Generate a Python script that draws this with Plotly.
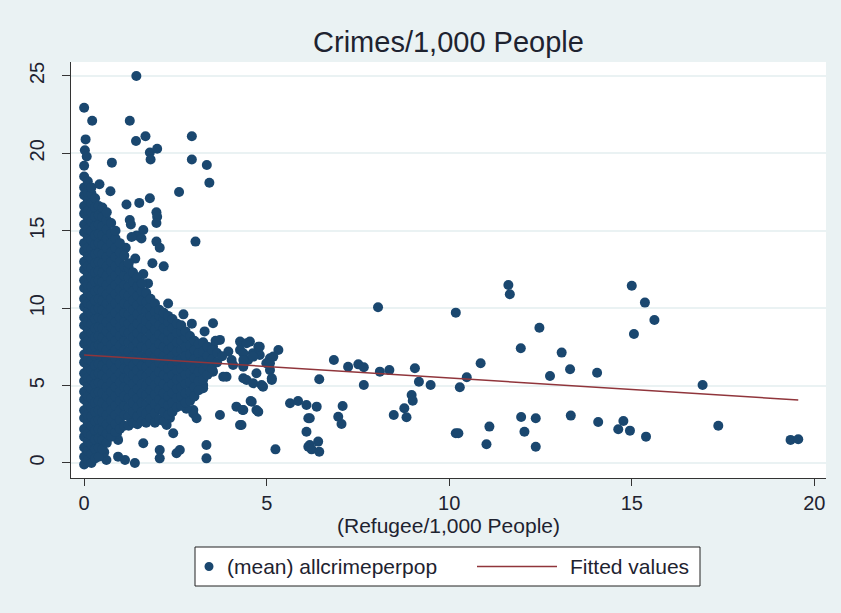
import plotly.graph_objects as go

# Municipalities away from the dense core (refugees per 1,000, crimes per 1,000)
refugee_sparse = [
    1.43, 0.00, 0.22, 1.25, 0.04, 1.42, 1.68, 2.95, 0.02, 0.07, 1.80, 2.00, 1.82, 0.76,
    2.95, 3.36, 0.00, 3.43, 2.60, 0.42, 0.72, 1.80, 1.16, 1.51, 3.05, 1.98, 2.00, 1.98,
    1.25, 1.28, 1.44, 1.62, 1.57, 1.30, 1.98, 2.07, 1.05, 0.96, 1.87, 2.18,
    0.61, 0.93, 1.12, 1.39, 0.93, 1.62, 2.07, 2.07, 2.62, 2.53, 3.35, 3.35, 2.26, 2.44,
    3.53, 3.72, 4.27, 4.54, 4.27, 4.62, 3.53, 3.90, 3.26, 3.08, 2.99, 3.72, 4.17, 4.36,
    4.27, 4.59, 4.72, 3.44, 3.81, 4.36, 4.45, 4.72, 5.09, 5.14, 4.63, 4.90, 2.99, 2.99,
    3.08, 3.26, 4.77, 5.24, 5.64, 5.86, 6.09, 6.09, 6.14, 6.14, 4.77, 4.81, 5.32, 5.09,
    4.99, 4.36, 4.49, 4.36, 4.04, 4.08, 3.26, 3.08, 2.90, 3.44, 3.17, 3.53, 4.45, 4.81,
    4.63, 4.36, 5.18, 5.09, 5.14, 4.86, 4.36, 4.56, 4.34, 4.31, 6.37, 6.18, 6.18, 6.23,
    6.41, 6.44, 7.08, 6.96, 7.05, 6.44, 6.84, 7.23, 7.51, 7.66, 7.66,
    8.05, 10.18, 11.62, 11.66, 12.47, 11.96, 10.86, 10.48, 10.29, 9.06, 9.17, 9.49,
    8.10, 8.36, 8.48, 8.77, 8.83, 8.97, 9.00, 10.18, 10.25, 11.10, 11.02, 11.97, 12.06,
    12.37, 12.37, 13.08, 12.76, 13.31, 14.05, 15.00, 15.36, 15.62, 15.06, 16.94, 13.33,
    14.08, 14.63, 14.77, 14.95, 15.39, 17.37, 19.35, 19.56,
    # ragged edge of the core
    1.14, 1.40, 1.62, 1.75, 2.30, 2.72, 2.95, 3.30, 0.90, 0.55, 2.35, 2.80, 3.60, 3.95,
]
crime_sparse = [
    25.0, 22.95, 22.1, 22.1, 20.9, 20.8, 21.1, 21.1, 20.2, 19.8, 20.05, 20.3, 19.6, 19.4,
    19.6, 19.25, 19.2, 18.1, 17.5, 18.0, 17.55, 17.1, 16.7, 16.8, 14.3, 16.2, 15.9, 15.5,
    15.7, 15.4, 14.7, 15.05, 14.5, 14.6, 14.3, 13.9, 13.8, 13.3, 12.9, 12.7,
    0.19, 0.41, 0.19, 0.0, 1.49, 1.27, 0.84, 0.30, 0.84, 0.63, 1.16, 0.30, 2.45, 1.92,
    9.03, 7.95, 7.84, 7.84, 7.30, 7.09, 5.90, 5.57, 5.04, 4.93, 3.20, 3.10, 3.64, 3.42,
    2.45, 3.96, 3.42, 6.00, 5.57, 6.22, 5.36, 5.80, 6.00, 5.36, 5.15, 4.93, 4.28, 3.42,
    2.89, 4.83, 3.31, 0.88, 3.86, 4.00, 3.75, 2.02, 1.05, 2.89, 7.51, 6.98, 7.30, 6.76,
    6.44, 7.09, 6.65, 6.33, 6.65, 6.33, 7.30, 7.30, 7.30, 6.87, 6.65, 7.51, 7.73, 7.51,
    6.87, 6.65, 6.87, 6.44, 5.47, 5.04, 5.47, 4.00, 3.42, 2.45, 3.64, 2.89, 1.16, 0.88,
    1.38, 0.73, 3.68, 2.99, 2.52, 5.41, 6.65, 6.22, 6.37, 6.18, 5.04,
    10.06, 9.71, 11.5, 10.9, 8.74, 7.41, 6.44, 5.54, 4.89, 6.12, 5.25, 5.04,
    5.90, 6.00, 3.10, 3.53, 2.95, 4.39, 4.02, 1.92, 1.92, 2.35, 1.21, 2.97, 2.02,
    2.89, 1.05, 7.13, 5.62, 6.05, 5.83, 11.45, 10.36, 9.24, 8.33, 5.04, 3.06,
    2.65, 2.18, 2.71, 2.09, 1.70, 2.41, 1.49, 1.53,
    13.9, 13.2, 12.2, 11.6, 10.3, 9.6, 9.0, 8.5, 1.9, 0.7, 2.9, 3.5, 7.9, 7.2,
]

# Dense core: refugee rate of each column and the crime rates recorded in it
core_refugee = [
    0.00, 0.10, 0.20, 0.30, 0.40, 0.50, 0.62, 0.74, 0.86, 0.98, 1.10, 1.22, 1.34, 1.46,
    1.58, 1.70, 1.82, 1.94, 2.06, 2.18, 2.30, 2.42, 2.54, 2.66, 2.78, 2.90, 3.02, 3.14,
    3.26, 3.38, 3.50, 3.64, 3.78,
]
core_crime = [
    [-0.1, 0.4, 1.0, 1.7, 2.2, 2.9, 3.4, 4.1, 4.6, 5.3, 5.8, 6.5, 7.0, 7.7, 8.2, 8.9, 9.4,
     10.1, 10.6, 11.3, 11.8, 12.5, 13.0, 13.7, 14.2, 14.9, 15.4, 16.1, 16.6, 17.3, 17.8, 18.5],
    [0.2, 0.8, 1.4, 1.9, 2.6, 3.1, 3.8, 4.3, 5.0, 5.5, 6.2, 6.7, 7.4, 7.9, 8.6, 9.1, 9.8,
     10.3, 11.0, 11.5, 12.2, 12.7, 13.4, 13.9, 14.6, 15.1, 15.8, 16.3, 17.0, 17.5, 18.2],
    [0.0, 0.6, 1.2, 1.8, 2.4, 3.0, 3.6, 4.2, 4.8, 5.4, 6.0, 6.6, 7.2, 7.8, 8.4, 9.0, 9.6,
     10.2, 10.8, 11.4, 12.0, 12.6, 13.2, 13.8, 14.4, 15.0, 15.6, 16.2, 16.8, 17.4, 17.8],
    [0.3, 0.9, 1.5, 2.1, 2.7, 3.3, 3.9, 4.5, 5.1, 5.7, 6.3, 6.9, 7.5, 8.1, 8.7, 9.3, 9.9,
     10.5, 11.1, 11.7, 12.3, 12.9, 13.5, 14.1, 14.7, 15.3, 15.9, 16.5, 17.1],
    [0.4, 1.0, 1.6, 2.2, 2.8, 3.4, 4.0, 4.6, 5.2, 5.8, 6.4, 7.0, 7.6, 8.2, 8.8, 9.4, 10.0,
     10.6, 11.2, 11.8, 12.4, 13.0, 13.6, 14.2, 14.8, 15.4, 16.0, 16.6],
    [0.9, 1.5, 2.1, 2.7, 3.3, 3.9, 4.5, 5.1, 5.7, 6.3, 6.9, 7.5, 8.1, 8.7, 9.3, 9.9, 10.5,
     11.1, 11.7, 12.3, 12.9, 13.5, 14.1, 14.7, 15.3, 15.9, 16.5],
    [1.3, 1.9, 2.5, 3.1, 3.7, 4.3, 4.9, 5.5, 6.1, 6.7, 7.3, 7.9, 8.5, 9.1, 9.7, 10.3, 10.9,
     11.5, 12.1, 12.7, 13.3, 13.9, 14.5, 15.1, 15.7, 16.2],
    [1.7, 2.2, 2.8, 3.4, 4.0, 4.6, 5.2, 5.8, 6.4, 7.0, 7.6, 8.2, 8.8, 9.4, 10.0, 10.6, 11.2,
     11.8, 12.4, 13.0, 13.6, 14.2, 14.8, 15.5],
    [2.0, 2.5, 3.1, 3.7, 4.3, 4.9, 5.5, 6.1, 6.7, 7.3, 7.9, 8.5, 9.1, 9.7, 10.3, 10.9, 11.5,
     12.1, 12.7, 13.3, 13.9, 14.5, 15.0],
    [2.2, 2.8, 3.4, 4.0, 4.6, 5.2, 5.8, 6.4, 7.0, 7.6, 8.2, 8.8, 9.4, 10.0, 10.6, 11.2, 11.8,
     12.4, 13.0, 13.6, 14.2],
    [2.4, 3.1, 3.7, 4.3, 4.9, 5.5, 6.1, 6.7, 7.3, 7.9, 8.5, 9.1, 9.7, 10.3, 10.9, 11.5, 12.1,
     12.7, 13.4],
    [2.4, 3.0, 3.6, 4.2, 4.8, 5.4, 6.0, 6.6, 7.2, 7.8, 8.4, 9.0, 9.6, 10.2, 10.8, 11.4, 12.0,
     12.6, 12.9],
    [2.6, 3.3, 3.9, 4.5, 5.1, 5.7, 6.3, 6.9, 7.5, 8.1, 8.7, 9.3, 9.9, 10.5, 11.1, 11.7, 12.3],
    [2.5, 3.0, 3.6, 4.2, 4.8, 5.4, 6.0, 6.6, 7.2, 7.8, 8.4, 9.0, 9.6, 10.2, 10.8, 11.4, 12.0],
    [2.7, 3.3, 3.9, 4.5, 5.1, 5.7, 6.3, 6.9, 7.5, 8.1, 8.7, 9.3, 9.9, 10.5, 11.1, 11.6],
    [2.6, 3.2, 3.8, 4.4, 5.0, 5.6, 6.2, 6.8, 7.4, 8.0, 8.6, 9.2, 9.8, 10.4, 11.0],
    [2.9, 3.5, 4.1, 4.7, 5.3, 5.9, 6.5, 7.1, 7.7, 8.3, 8.9, 9.5, 10.1, 10.6],
    [2.6, 3.2, 3.8, 4.4, 5.0, 5.6, 6.2, 6.8, 7.4, 8.0, 8.6, 9.2, 9.8, 10.3],
    [2.8, 3.5, 4.1, 4.7, 5.3, 5.9, 6.5, 7.1, 7.7, 8.3, 8.9, 9.5, 9.9],
    [2.7, 3.3, 3.9, 4.5, 5.1, 5.7, 6.3, 6.9, 7.5, 8.1, 8.7, 9.3, 9.7],
    [3.1, 3.7, 4.3, 4.9, 5.5, 6.1, 6.7, 7.3, 7.9, 8.5, 9.1, 9.5],
    [3.3, 3.9, 4.5, 5.1, 5.7, 6.3, 6.9, 7.5, 8.1, 8.7, 9.3],
    [3.6, 4.2, 4.8, 5.4, 6.0, 6.6, 7.2, 7.8, 8.4, 9.0],
    [3.7, 4.3, 4.9, 5.5, 6.1, 6.7, 7.3, 7.9, 8.5, 8.9],
    [3.9, 4.5, 5.1, 5.7, 6.3, 6.9, 7.5, 8.1, 8.5],
    [4.0, 4.6, 5.2, 5.8, 6.4, 7.0, 7.6, 8.2],
    [4.3, 4.9, 5.5, 6.1, 6.7, 7.3, 7.9],
    [4.7, 5.3, 5.9, 6.5, 7.1, 7.7],
    [5.4, 6.0, 6.6, 7.2, 7.8],
    [5.7, 6.3, 6.9, 7.5],
    [6.1, 6.7, 7.3],
    [6.5, 7.1],
    [6.9],
]

# Linear fit over the observed range of the refugee rate
fit_refugee = [0.0, 19.56]
fit_crime = [6.98, 4.07]

x_ticks = [0, 5, 10, 15, 20]
y_ticks = [0, 5, 10, 15, 20, 25]

series_names = ["(mean) allcrimeperpop", "Fitted values"]

all_x = list(refugee_sparse)
all_y = list(crime_sparse)
for cx, ys in zip(core_refugee, core_crime):
    all_x.extend([cx] * len(ys))
    all_y.extend(ys)

NAVY = "#1A476F"
MAROON = "#90353B"
BG = "#EAF2F3"
INK = "#1e2330"
FONT = "Liberation Sans, Arial, sans-serif"

fig = go.Figure()
fig.add_trace(go.Scatter(
    x=all_x, y=all_y, mode="markers", name=series_names[0],
    marker=dict(symbol="circle", size=10, color=NAVY, line=dict(width=0)),
    hoverinfo="skip", showlegend=False,
))
fig.add_trace(go.Scatter(
    x=fit_refugee, y=fit_crime, mode="lines", name=series_names[1],
    line=dict(color=MAROON, width=1.5), showlegend=False,
))

# Boxed key under the x-axis title, Stata style: wide line sample, marker dot
PLOT_L, PLOT_R, PLOT_T, PLOT_B = 71, 826, 62, 478


def px_x(p):
    return (p - PLOT_L) / (PLOT_R - PLOT_L)


def px_y(p):
    return (PLOT_B - p) / (PLOT_B - PLOT_T)


key_mid = px_y(566.5)
fig.add_shape(type="rect", xref="paper", yref="paper",
              x0=px_x(195), x1=px_x(700), y0=px_y(586), y1=px_y(547),
              fillcolor="white", line=dict(color="#222", width=1), layer="above")
fig.add_shape(type="circle", xref="paper", yref="paper",
              xsizemode="pixel", ysizemode="pixel",
              xanchor=px_x(209), yanchor=key_mid, x0=-4.5, x1=4.5, y0=-4.5, y1=4.5,
              fillcolor=NAVY, line=dict(color=NAVY, width=0), layer="above")
fig.add_shape(type="line", xref="paper", yref="paper",
              x0=px_x(477), x1=px_x(557), y0=key_mid, y1=key_mid,
              line=dict(color=MAROON, width=1.5), layer="above")
fig.add_annotation(text=series_names[0], xref="paper", yref="paper",
                   x=px_x(225), y=key_mid, xanchor="left", yanchor="middle",
                   showarrow=False, font=dict(size=21, color=INK, family=FONT))
fig.add_annotation(text=series_names[1], xref="paper", yref="paper",
                   x=px_x(568), y=key_mid, xanchor="left", yanchor="middle",
                   showarrow=False, font=dict(size=21, color=INK, family=FONT))

fig.update_layout(
    width=841, height=613,
    margin=dict(l=PLOT_L, r=841 - PLOT_R, t=PLOT_T, b=613 - PLOT_B),
    paper_bgcolor=BG, plot_bgcolor="white",
    font=dict(family=FONT, color=INK),
    title=dict(text="Crimes/1,000 People", x=0.5, xref="paper", xanchor="center",
               y=1 - 42 / 613, yref="container", yanchor="middle",
               font=dict(size=29, color=INK, family=FONT)),
    xaxis=dict(
        range=[-0.36, 20.32], tickvals=x_ticks, ticktext=[str(v) for v in x_ticks],
        ticks="outside", ticklen=7, tickwidth=1.2, tickcolor="#333",
        showline=True, linecolor="#333", linewidth=1.3,
        showgrid=False, zeroline=False,
        tickfont=dict(size=20, color=INK),
        title=dict(text="(Refugee/1,000 People)", font=dict(size=21, color=INK), standoff=0),
    ),
    yaxis=dict(
        range=[-0.97, 25.9], tickvals=y_ticks, ticktext=[str(v) for v in y_ticks],
        tickangle=-90, ticks="outside", ticklen=8, tickwidth=1.2, tickcolor="#333",
        ticklabelstandoff=10,
        showline=True, linecolor="#333", linewidth=1.3,
        showgrid=True, gridcolor=BG, gridwidth=1.5, zeroline=False,
        tickfont=dict(size=20, color=INK),
    ),
    showlegend=False,
)

fig.write_html("out.html")
